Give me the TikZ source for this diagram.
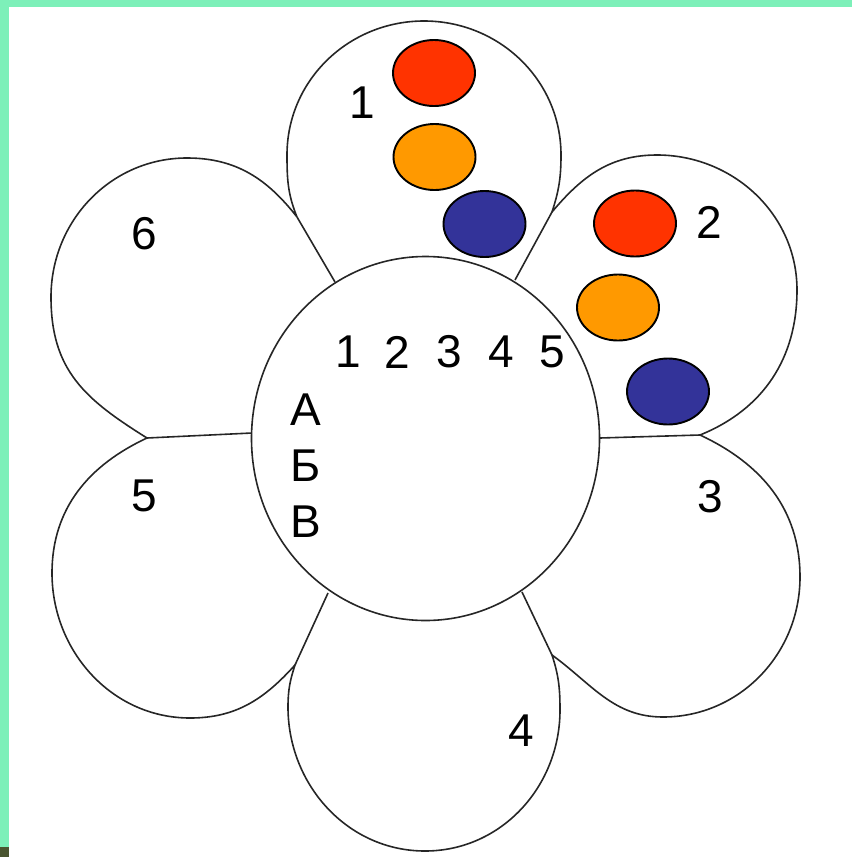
\documentclass[tikz,border=0pt]{standalone}
\usepackage{fontspec}
\setmainfont{Liberation Sans}
\usetikzlibrary{shapes.geometric}
\definecolor{frame}{HTML}{7DF0B9}
\definecolor{corner}{HTML}{4A5530}
\definecolor{spotred}{HTML}{FF3300}
\definecolor{spotorange}{HTML}{FF9900}
\definecolor{spotblue}{HTML}{333399}

\begin{document}
\begin{tikzpicture}[x=1pt, y=-1pt,
  petal/.style={draw=black!85, line width=1.6pt},
  spot/.style={draw=black, line width=1.9pt},
  every node/.style={inner sep=0pt, font=\fontsize{46}{50}\selectfont}]
\useasboundingbox (0,0) rectangle (852,857);
\fill[frame] (0,0) rectangle (852,7);
\fill[frame] (0,0) rectangle (9,847);
\fill[corner] (0,847) rectangle (9,857);

% cusps between petals and where their lines meet the disc
\coordinate (c61) at (297,217);
\coordinate (c12) at (552,212);
\coordinate (c23) at (700,435);
\coordinate (c34) at (552,655);
\coordinate (c45) at (295,665);
\coordinate (c56) at (147,438);
\coordinate (i61) at (335,282);
\coordinate (i12) at (515,280);
\coordinate (i23) at (600,438);
\coordinate (i34) at (522,592);
\coordinate (i45) at (328,593);
\coordinate (i56) at (252,433);

\draw[petal] (c61) to[out=112,in=270] (287,155) to[out=90,in=180] (424,21) to[out=0,in=90] (561,155) to[out=270,in=72] (c12)
  to[out=50,in=180] (657,155) to[out=0,in=90] (797,290) to[out=270,in=22] (c23)
  to[out=-25,in=90] (800,577) to[out=270,in=0] (663,717) to[out=180,in=-36] (c34)
  to[out=-72,in=90] (560,710) to[out=270,in=0] (425,851) to[out=180,in=270] (288,707) to[out=90,in=252] (c45)
  to[out=228,in=0] (190,718) to[out=180,in=270] (52,573) to[out=90,in=205] (c56)
  to[out=148,in=270,looseness=1.1] (51,297) to[out=90,in=180] (187,158) to[out=0,in=128] (c61);
\draw[petal] (c61) -- (i61) (c12) -- (i12) (c23) -- (i23) (c34) -- (i34) (c45) -- (i45) (c56) -- (i56);

\node[petal, ellipse, fill=white, minimum width=348pt, minimum height=364pt] (disc) at (425.5,438.5) {};

\draw[spot, fill=spotred] (434,73) ellipse [x radius=41, y radius=33];
\draw[spot, fill=spotorange] (434.5,157) ellipse [x radius=41, y radius=33];
\draw[spot, fill=spotblue] (484.5,224) ellipse [x radius=41, y radius=33];
\draw[spot, fill=spotred] (635,223.5) ellipse [x radius=41, y radius=33];
\draw[spot, fill=spotorange] (618,307.5) ellipse [x radius=41, y radius=33];
\draw[spot, fill=spotblue] (668,391.5) ellipse [x radius=41, y radius=33];

\node (p1) at (362,103) {1};
\node (p2) at (709,222) {2};
\node (p3) at (710,497) {3};
\node (p4) at (521,731) {4};
\node (p5) at (144,496) {5};
\node (p6) at (144,234) {6};

\node (h1) at (348,352) {1};
\node (h2) at (397,352) {2};
\node (h3) at (449,352) {3};
\node (h4) at (501,352) {4};
\node (h5) at (552,352) {5};
\node (ra) at (306,410) {А};
\node (rb) at (306,466) {Б};
\node (rc) at (306,522) {В};
\end{tikzpicture}
\end{document}
